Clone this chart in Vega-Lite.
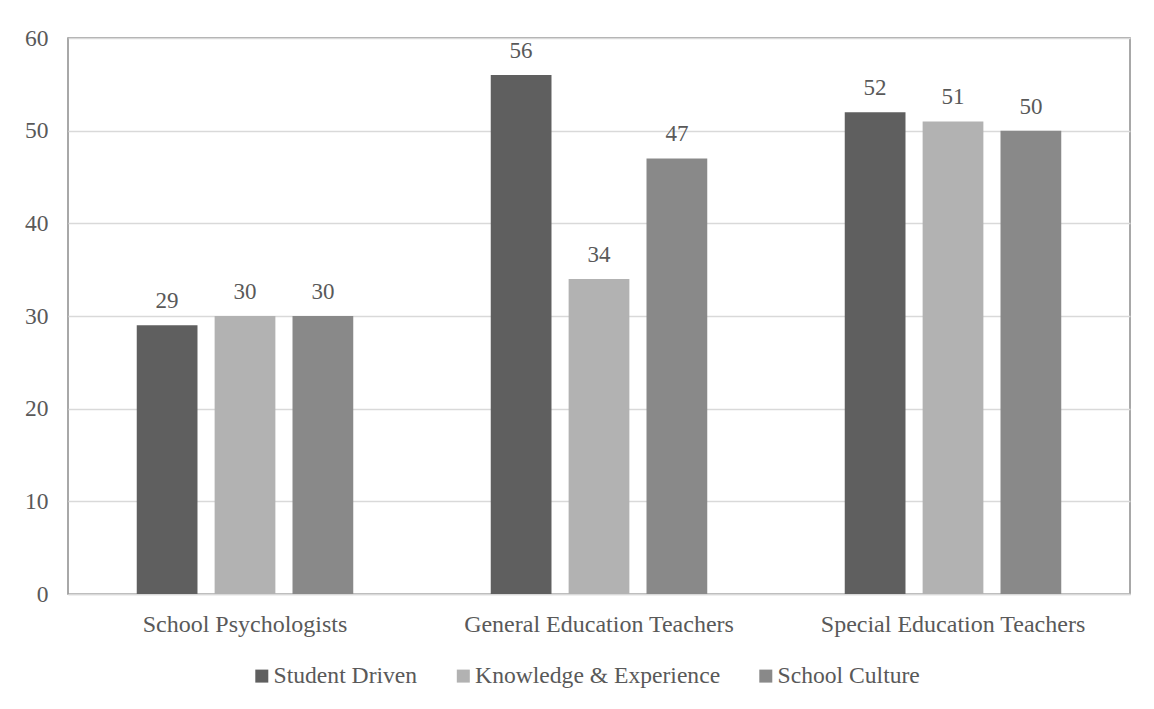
{
  "$schema": "https://vega.github.io/schema/vega-lite/v6.json",
  "autosize": {"type": "none"},
  "padding": {"left": 68, "top": 38, "right": 24, "bottom": 115},
  "width": 1062,
  "height": 556,
  "background": "white",
  "data": {
    "values": [
      {"group": "School Psychologists", "series": "Student Driven", "value": 29},
      {"group": "School Psychologists", "series": "Knowledge & Experience", "value": 30},
      {"group": "School Psychologists", "series": "School Culture", "value": 30},
      {"group": "General Education Teachers", "series": "Student Driven", "value": 56},
      {"group": "General Education Teachers", "series": "Knowledge & Experience", "value": 34},
      {"group": "General Education Teachers", "series": "School Culture", "value": 47},
      {"group": "Special Education Teachers", "series": "Student Driven", "value": 52},
      {"group": "Special Education Teachers", "series": "Knowledge & Experience", "value": 51},
      {"group": "Special Education Teachers", "series": "School Culture", "value": 50}
    ]
  },
  "encoding": {
    "x": {
      "field": "group",
      "type": "nominal",
      "sort": ["School Psychologists", "General Education Teachers", "Special Education Teachers"],
      "scale": {"paddingInner": 0.34, "paddingOuter": 0.17},
      "axis": {
        "title": null,
        "labelAngle": 0,
        "ticks": false,
        "tickSize": 0,
        "labelPadding": 18,
        "labelLimit": 0,
        "domainColor": "#d9d9d9",
        "domainWidth": 1.5,
        "labelFont": "Liberation Serif",
        "labelFontSize": 24,
        "labelColor": "#595959",
        "labelBaseline": "top"
      }
    },
    "xOffset": {
      "field": "series",
      "type": "nominal",
      "sort": ["Student Driven", "Knowledge & Experience", "School Culture"],
      "scale": {"paddingInner": 0.22, "paddingOuter": 0.11}
    },
    "y": {
      "field": "value",
      "type": "quantitative",
      "scale": {"domain": [0, 60], "nice": false},
      "axis": {
        "title": null,
        "values": [0, 10, 20, 30, 40, 50, 60],
        "domain": false,
        "ticks": false,
        "tickSize": 0,
        "labelPadding": 20,
        "gridColor": "#d9d9d9",
        "gridWidth": 1.5,
        "labelFont": "Liberation Serif",
        "labelFontSize": 23.5,
        "labelColor": "#595959"
      }
    }
  },
  "layer": [
    {
      "mark": {"type": "bar"},
      "encoding": {
        "color": {
          "field": "series",
          "type": "nominal",
          "sort": ["Student Driven", "Knowledge & Experience", "School Culture"],
          "scale": {
            "domain": ["Student Driven", "Knowledge & Experience", "School Culture"],
            "range": ["#5f5f5f", "#b2b2b2", "#898989"]
          },
          "legend": {
            "title": null,
            "orient": "none",
            "direction": "horizontal",
            "legendX": 182,
            "legendY": 626,
            "padding": 0,
            "symbolType": "square",
            "symbolSize": 169,
            "symbolStrokeWidth": 0,
            "symbolOpacity": 1,
            "labelOffset": 0,
            "columnPadding": 33.5,
            "labelFont": "Liberation Serif",
            "labelFontSize": 23.6,
            "labelColor": "#595959",
            "labelLimit": 400
          }
        }
      }
    },
    {
      "mark": {
        "type": "text",
        "baseline": "alphabetic",
        "dy": -17,
        "font": "Liberation Serif",
        "fontSize": 23,
        "color": "#595959"
      },
      "encoding": {
        "text": {"field": "value", "type": "quantitative"}
      }
    }
  ],
  "config": {
    "view": {"stroke": "#8c8c8c", "strokeWidth": 1.5},
    "legend": {"symbolStrokeWidth": 0}
  }
}
